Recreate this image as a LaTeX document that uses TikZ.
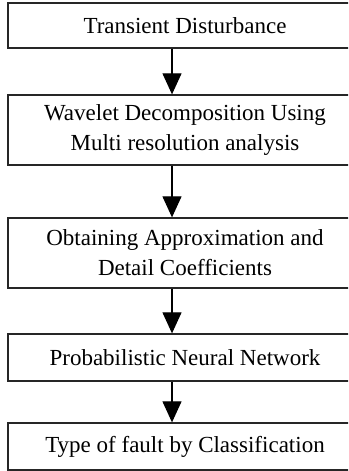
\documentclass[tikz,border=0pt]{standalone}
\usepackage{fontspec}
\setmainfont{Liberation Serif}
\usetikzlibrary{arrows.meta}
\begin{document}
\begin{tikzpicture}[x=1pt,y=-1pt,
  box/.style={draw=black!85, line width=1.3pt, minimum width=354pt, align=center,
    font=\fontsize{23}{30}\selectfont, inner sep=0pt},
  arr/.style={draw=black, line width=1.1pt, -{Triangle[width=19pt,length=21pt]}}]
\useasboundingbox (0,0) rectangle (348,471);
\clip (0,0) rectangle (348,471);
\node[box, minimum height=45pt] (b1) at (185,25.5) {Transient Disturbance};
\node[box, minimum height=70pt] (b2) at (185,130) {Wavelet Decomposition Using\\Multi resolution analysis};
\node[box, minimum height=70pt] (b3) at (185,253) {Obtaining Approximation and\\Detail Coefficients};
\node[box, minimum height=47pt] (b4) at (185,357.5) {Probabilistic Neural Network};
\node[box, minimum height=47pt] (b5) at (185,446.5) {Type of fault by Classification};
\coordinate (ax) at (172,0);
\draw[arr] (b1.south -| ax) -- (b2.north -| ax);
\draw[arr] (b2.south -| ax) -- (b3.north -| ax);
\draw[arr] (b3.south -| ax) -- (b4.north -| ax);
\draw[arr] (b4.south -| ax) -- (b5.north -| ax);
\end{tikzpicture}
\end{document}
